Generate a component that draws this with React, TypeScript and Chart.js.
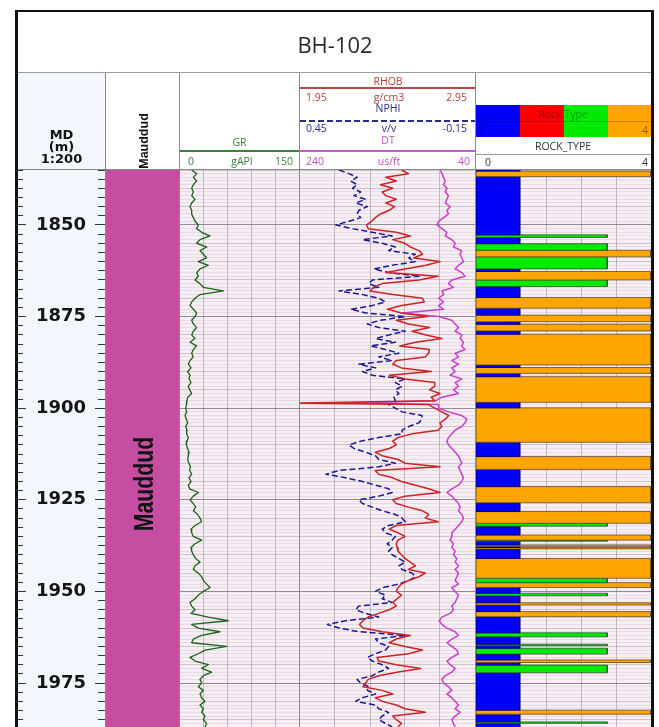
import React, { useEffect, useRef } from 'react';
import { Chart, registerables } from 'chart.js';

Chart.register(...registerables);

// ---------------- DATA ----------------
const DEPTH = [
  1835, 1836, 1837, 1838, 1839, 1840, 1841, 1842, 1843, 1844,
  1845, 1846, 1847, 1848, 1849, 1850, 1851, 1852, 1853, 1854,
  1855, 1856, 1857, 1858, 1859, 1860, 1861, 1862, 1863, 1864,
  1865, 1866, 1867, 1868, 1869, 1870, 1871, 1872, 1873, 1874,
  1875, 1876, 1877, 1878, 1879, 1880, 1881, 1882, 1883, 1884,
  1885, 1886, 1887, 1888, 1889, 1890, 1891, 1892, 1893, 1894,
  1895, 1896, 1897, 1898, 1898.6,
  1899, 1900, 1901, 1902, 1903, 1904, 1905, 1906, 1907, 1908,
  1909, 1910, 1911, 1912, 1913, 1914, 1915, 1916, 1917, 1918,
  1919, 1920, 1921, 1922, 1923, 1924, 1925, 1926, 1927, 1928,
  1929, 1930, 1931, 1932, 1933, 1934, 1935, 1936, 1937, 1938,
  1939, 1940, 1941, 1942, 1943, 1944, 1945, 1946, 1947, 1948,
  1949, 1950, 1951, 1952, 1953, 1954, 1955, 1956, 1957, 1958,
  1959, 1960, 1961, 1962, 1963, 1964, 1965, 1966, 1967, 1968,
  1969, 1970, 1971, 1972, 1973, 1974, 1975, 1976, 1977, 1978,
  1979, 1980, 1981, 1982, 1983, 1984, 1985, 1986, 1987,
];

const GR = [
  14.7, 21, 16.8, 21, 16.8, 14.7, 16.8, 14.7, 18.9, 14.7,
  12.6, 14.7, 14.7, 16.8, 18.9, 23.1, 21, 27.3, 37.8, 25.2,
  21, 33.6, 25.2, 29.4, 33.6, 23.1, 35.7, 25.2, 21, 23.1,
  18.9, 25.2, 29.4, 54.6, 25.2, 18.9, 14.7, 12.6, 16.8, 21,
  18.9, 14.7, 16.8, 21, 16.8, 14.7, 18.9, 12.6, 21, 16.8,
  14.7, 16.8, 12.6, 10.5, 13.9, 9.7, 12.6, 11.3, 13.9, 10.5,
  12.2, 14.7, 9.7, 8.8, 8.5,
  8, 7.1, 8.4, 6.3, 8, 9.7, 7.1, 8.8, 8.4, 10.5,
  8.8, 8, 9.7, 11.3, 10.5, 9.7, 11.3, 13, 12.2, 14.7,
  11.3, 13.9, 10.5, 12.2, 23.1, 16.8, 12.6, 16.8, 19.7, 16.8,
  22.3, 25.2, 27.3, 18.9, 13.9, 14.7, 16.8, 27.3, 18.9, 13.9,
  14.7, 16.8, 19.7, 25.2, 18.9, 16.8, 23.1, 27.3, 29.4, 33.6,
  37.8, 29.4, 23.1, 18.9, 12.6, 14.7, 18.9, 13.9, 35.7, 60.9,
  14.7, 23.1, 50.4, 27.3, 16.8, 14.7, 58.8, 31.5, 23.1, 12.6,
  18.9, 35.7, 27.3, 39.9, 29.4, 25.2, 27.3, 23.1, 29.4, 25.2,
  27.3, 31.5, 25.2, 29.4, 27.3, 31.5, 29.4, 33.6, 31.5,
];

const RHOB = [
  2.53, 2.57, 2.44, 2.5, 2.41, 2.48, 2.42, 2.44, 2.5, 2.44,
  2.49, 2.46, 2.41, 2.38, 2.36, 2.33, 2.34, 2.5, 2.58, 2.48,
  2.55, 2.58, 2.63, 2.65, 2.6, 2.75, 2.67, 2.55, 2.44, 2.74,
  2.63, 2.42, 2.37, 2.35, 2.48, 2.65, 2.66, 2.53, 2.45, 2.53,
  2.68, 2.5, 2.57, 2.69, 2.59, 2.67, 2.76, 2.61, 2.52, 2.69,
  2.685, 2.666, 2.5, 2.48, 2.53, 2.7, 2.46, 2.55, 2.72, 2.72,
  2.69, 2.75, 2.7, 2.72, 1.9,
  2.685, 2.72, 2.76, 2.8, 2.78, 2.75, 2.76, 2.74, 2.59, 2.51,
  2.48, 2.5, 2.46, 2.38, 2.42, 2.51, 2.55, 2.75, 2.38, 2.4,
  2.48, 2.53, 2.61, 2.685, 2.75, 2.55, 2.48, 2.5, 2.57, 2.65,
  2.685, 2.666, 2.74, 2.5, 2.46, 2.51, 2.55, 2.51, 2.5, 2.505,
  2.51, 2.53, 2.55, 2.58, 2.61, 2.57, 2.666, 2.63, 2.57, 2.53,
  2.51, 2.5, 2.53, 2.505, 2.48, 2.5, 2.46, 2.4, 2.34, 2.31,
  2.29, 2.31, 2.42, 2.58, 2.5, 2.46, 2.55, 2.65, 2.57, 2.39,
  2.4, 2.5, 2.64, 2.51, 2.4, 2.34, 2.325, 2.31, 2.42, 2.48,
  2.38, 2.42, 2.5, 2.55, 2.666, 2.48, 2.5, 2.53, 2.51,
];

const NPHI = [
  0.316, 0.282, 0.254, 0.276, 0.254, 0.27, 0.242, 0.265, 0.225, 0.259,
  0.219, 0.248, 0.254, 0.242, 0.282, 0.327, 0.27, 0.202, 0.134, 0.236,
  0.168, 0.123, 0.146, 0.055, 0.077, 0.055, 0.134, 0.197, 0.146, 0.038,
  0.202, 0.214, 0.18, 0.316, 0.236, 0.18, 0.157, 0.202, 0.276, 0.225,
  0.089, 0.174, 0.219, 0.18, 0.089, 0.146, 0.191, 0.123, 0.208, 0.157,
  0.111, 0.18, 0.134, 0.248, 0.191, 0.236, 0.202, 0.089, 0.123, 0.1,
  0.123, 0.111, 0.128, 0.123, 0.123,
  0.146, 0.123, 0.1, 0.032, 0.032, 0.043, 0.077, 0.1, 0.1, 0.18,
  0.242, 0.282, 0.265, 0.225, 0.191, 0.18, 0.123, 0.18, 0.316, 0.361,
  0.293, 0.236, 0.191, 0.146, 0.134, 0.18, 0.248, 0.236, 0.202, 0.168,
  0.123, 0.1, 0.089, 0.146, 0.168, 0.157, 0.123, 0.134, 0.151, 0.134,
  0.146, 0.134, 0.111, 0.089, 0.111, 0.1, 0.066, 0.055, 0.077, 0.111,
  0.168, 0.191, 0.157, 0.168, 0.134, 0.248, 0.259, 0.225, 0.18, 0.293,
  0.356, 0.316, 0.248, 0.089, 0.191, 0.18, 0.146, 0.157, 0.191, 0.219,
  0.202, 0.168, 0.146, 0.18, 0.202, 0.254, 0.242, 0.214, 0.219, 0.191,
  0.236, 0.259, 0.191, 0.18, 0.146, 0.168, 0.18, 0.157, 0.134,
];

const DT = [
  79.7, 77.8, 75.9, 74, 75.9, 72.1, 74, 70.3, 72.1, 74,
  68.4, 72.1, 70.3, 75.9, 81.6, 83.5, 77.8, 72.1, 74, 66.5,
  62.7, 64.6, 55.1, 57, 55.1, 53.2, 58.9, 62.7, 55.1, 51.3,
  66.5, 70.3, 64.6, 77.8, 75.9, 81.6, 75.9, 81.6, 75.9, 123.3,
  81.6, 66.5, 62.7, 58.9, 62.7, 55.1, 57, 53.2, 55.1, 51.3,
  62.7, 58.9, 66.5, 58.9, 66.5, 62.7, 68.4, 55.1, 62.7, 58.9,
  64.6, 58.9, 77.8, 85.4, 183.9,
  81.6, 81.6, 70.3, 55.1, 49.4, 51.3, 55.1, 62.7, 66.5, 70.3,
  72.1, 70.3, 66.5, 62.7, 58.9, 57, 55.1, 58.9, 57, 55.1,
  53.2, 55.1, 58.9, 66.5, 72.1, 66.5, 62.7, 58.9, 57, 58.9,
  55.1, 53.2, 55.1, 58.9, 62.7, 66.5, 66.5, 68.4, 64.6, 66.5,
  62.7, 64.6, 60.8, 62.7, 58.9, 62.7, 58.9, 60.8, 62.7, 58.9,
  66.5, 62.7, 58.9, 60.8, 62.7, 66.5, 64.6, 68.4, 77.8, 80.9,
  77.8, 72.1, 62.7, 58.9, 66.5, 72.1, 66.5, 60.8, 58.9, 66.5,
  72.1, 68.4, 62.7, 66.5, 74, 77.8, 75.9, 70.3, 66.5, 72.1,
  66.5, 62.7, 58.9, 62.7, 57, 62.7, 66.5, 64.6, 62.7,
];

const ROCK_TOP = [
  1834.7, 1835.3, 1836.8, 1852.7, 1853.4, 1855.1, 1856.9, 1858.7, 1862.0, 1862.7,
  1865.0, 1866.8, 1869.8, 1872.7, 1874.6, 1876.4, 1877.1, 1878.9, 1879.8, 1888.2,
  1888.9, 1890.5, 1891.4, 1898.4, 1899.9, 1909.3, 1913.2, 1916.7, 1921.4, 1925.8,
  1928.2, 1931.4, 1932.2, 1934.6, 1936.0, 1936.3, 1937.3, 1937.7, 1938.0, 1938.4,
  1941.0, 1946.4, 1947.6, 1948.9, 1950.5, 1951.2, 1953.1, 1953.7, 1955.5, 1956.9,
  1961.3, 1962.4, 1964.4, 1964.8, 1965.5, 1967.1, 1968.7, 1969.4, 1970.1, 1972.2,
  1982.4, 1983.5, 1985.6, 1986.0,
];
const ROCK_BASE = [
  1835.3, 1836.8, 1852.7, 1853.4, 1855.1, 1856.9, 1858.7, 1862.0, 1862.7, 1865.0,
  1866.8, 1869.8, 1872.7, 1874.6, 1876.4, 1877.1, 1878.9, 1879.8, 1888.2, 1888.9,
  1890.5, 1891.4, 1898.4, 1899.9, 1909.3, 1913.2, 1916.7, 1921.4, 1925.8, 1928.2,
  1931.4, 1932.2, 1934.6, 1936.0, 1936.3, 1937.3, 1937.7, 1938.0, 1938.4, 1941.0,
  1946.4, 1947.6, 1948.9, 1950.5, 1951.2, 1953.1, 1953.7, 1955.5, 1956.9, 1961.3,
  1962.4, 1964.4, 1964.8, 1965.5, 1967.1, 1968.7, 1969.4, 1970.1, 1972.2, 1982.4,
  1983.5, 1985.6, 1986.0, 1996.0,
];
const ROCK_CODE = [
  1, 4, 1, 3, 1, 3, 4, 3, 1, 4,
  3, 1, 4, 1, 4, 1, 4, 1, 4, 1,
  4, 1, 4, 1, 4, 1, 4, 1, 4, 1,
  4, 3, 1, 4, 3, 1, 4, 1, 4, 1,
  4, 3, 4, 1, 3, 1, 4, 1, 4, 1,
  3, 1, 3, 1, 3, 1, 4, 1, 3, 1,
  4, 1, 3, 1,
];
const ROCK_COLORS = ['rgb(0,0,250)', 'rgb(250,0,0)', 'rgb(0,235,0)', 'rgb(255,165,0)'];
const ROCK_EDGE = ['rgba(0,0,110,0.9)', 'rgba(60,40,40,0.75)', 'rgba(50,70,50,0.75)', 'rgba(90,70,40,0.75)'];

const FORMATION_NAME = ['Mauddud'];
const FORMATION_TOP = [1820];
const FORMATION_BASE = [2010];

const DEPTH_LABELS = [1850, 1875, 1900, 1925, 1950, 1975];
const GR_GRID = [30, 60, 90, 120];
const RHOB_GRID = [2.15, 2.35, 2.55, 2.75];
const ROCK_GRID = [0.8, 1.6, 2.4, 3.2];

// ---------------- LAYOUT / STYLE ----------------
const W = 659;
const H = 727;
const TRACK_TOP = 170;
const TRACK_H = 590;
const D_MIN = 1835;
const D_MAX = 1996;

const C_GR = 'rgb(25,100,25)';
const C_RHOB = 'rgb(205,35,35)';
const C_NPHI = 'rgb(25,25,150)';
const C_DT = 'rgb(205,60,205)';
const T_GR = 'rgb(60,130,60)';
const T_RHOB = 'rgb(175,65,60)';
const T_NPHI = 'rgb(40,45,140)';
const T_DT = 'rgb(195,80,195)';
const TRACK_BG = 'rgb(247,238,244)';
const DEPTH_BG = 'rgb(243,247,253)';
const FORM_COLOR = 'rgb(198,78,160)';
const SEP = '#8a8a8a';

const hGridColor = (c: any) => {
  const v = c && c.tick ? c.tick.value : 0;
  if (Math.abs(v % 25) < 1e-6) return 'rgba(120,115,120,0.8)';
  if (Math.abs(v % 5) < 1e-6) return 'rgba(165,150,165,0.5)';
  return 'rgba(214,190,207,0.42)';
};

const zeroPad = (s: any) => {
  s.paddingTop = 0;
  s.paddingBottom = 0;
  s.paddingLeft = 0;
  s.paddingRight = 0;
};

const depthScale = (grid: boolean) => ({
  type: 'linear',
  axis: 'y',
  position: 'left',
  min: D_MIN,
  max: D_MAX,
  reverse: true,
  display: grid,
  ticks: { display: false, stepSize: 1, autoSkip: false },
  grid: { drawTicks: false, color: hGridColor, lineWidth: 1 },
  border: { display: false },
  afterFit: (s: any) => { s.width = 0; zeroPad(s); },
});

const valueScale = (min: number, max: number, reverse: boolean, gridTicks?: number[]) => ({
  type: 'linear',
  axis: 'x',
  position: 'top',
  min,
  max,
  reverse,
  display: !!gridTicks,
  ticks: { display: false, autoSkip: false },
  afterBuildTicks: (s: any) => {
    if (gridTicks) s.ticks = gridTicks.map((v) => ({ value: v }));
  },
  grid: { drawTicks: false, color: 'rgba(150,145,150,0.6)', lineWidth: 1 },
  border: { display: false },
  afterFit: (s: any) => { s.height = 0; zeroPad(s); },
});

const baseOptions = (scales: any) => ({
  animation: false,
  responsive: false,
  maintainAspectRatio: false,
  events: [],
  layout: { padding: 0 },
  plugins: { legend: { display: false }, tooltip: { enabled: false }, title: { display: false } },
  scales,
});

const curve = (values: number[], xAxisID: string, color: string, width: number, dash?: number[]) => ({
  data: DEPTH.map((d, i) => ({ x: values[i], y: d })),
  xAxisID,
  yAxisID: 'y',
  showLine: true,
  pointRadius: 0,
  borderColor: color,
  borderWidth: width,
  borderDash: dash || [],
  borderJoinStyle: 'round',
  fill: false,
  tension: 0,
});

const rect = (x0: number, x1: number, top: number, base: number, fillColor: string, edge: string, bw: number) => ({
  data: [
    { x: x0, y: top },
    { x: x1, y: top },
    { x: x1, y: base },
    { x: x0, y: base },
    { x: x0, y: top },
  ],
  xAxisID: 'x',
  yAxisID: 'y',
  showLine: true,
  pointRadius: 0,
  fill: 'shape',
  backgroundColor: fillColor,
  borderColor: edge,
  borderWidth: bw,
  tension: 0,
});

const makeDepth = () => {
  const minorTicks = (pos: string, weight: number, len: number) => ({
    type: 'linear',
    axis: 'y',
    position: pos,
    weight,
    min: D_MIN,
    max: D_MAX,
    reverse: true,
    ticks: { display: false, stepSize: 2.5, autoSkip: false },
    grid: { drawOnChartArea: false, drawTicks: true, tickLength: len, tickColor: '#333', tickWidth: 1, color: 'rgba(0,0,0,0)' },
    border: { display: false },
    afterFit: (s: any) => { s.width = len; zeroPad(s); },
  });
  const majorTicks = (pos: string, weight: number, len: number, labels: boolean) => ({
    type: 'linear',
    axis: 'y',
    position: pos,
    weight,
    min: D_MIN,
    max: D_MAX,
    reverse: true,
    afterBuildTicks: (s: any) => { s.ticks = DEPTH_LABELS.map((v) => ({ value: v })); },
    ticks: {
      display: labels,
      mirror: true,
      padding: 10,
      autoSkip: false,
      callback: (v: any) => String(v),
      font: { family: 'DejaVu Sans', size: 18, weight: 'bold' },
      color: '#151515',
    },
    grid: { drawOnChartArea: false, drawTicks: true, tickLength: len, tickColor: '#333', tickWidth: 1, color: 'rgba(0,0,0,0)' },
    border: { display: false },
    afterFit: (s: any) => { s.width = len; zeroPad(s); },
  });
  return {
    type: 'scatter',
    data: { datasets: [] },
    options: baseOptions({
      x: { type: 'linear', axis: 'x', display: false, min: 0, max: 1 },
      yA: minorTicks('left', 1, 5),
      yB: majorTicks('left', 0, 3, true),
      yC: majorTicks('right', 0, 3, false),
      yD: minorTicks('right', 1, 7),
    }),
  };
};

const makeFormation = () => ({
  type: 'scatter',
  data: {
    datasets: FORMATION_TOP.map((t, i) => rect(0, 1, t, FORMATION_BASE[i], FORM_COLOR, 'rgba(0,0,0,0)', 0)),
  },
  options: baseOptions({ x: valueScale(0, 1, false), y: depthScale(false) }),
});

const makeGR = () => ({
  type: 'scatter',
  data: { datasets: [curve(GR, 'x', C_GR, 1.3)] },
  options: baseOptions({ x: valueScale(0, 150, false, GR_GRID), y: depthScale(true) }),
});

const makeLogs = () => ({
  type: 'scatter',
  data: {
    datasets: [
      curve(RHOB, 'xR', C_RHOB, 1.5),
      curve(NPHI, 'xN', C_NPHI, 1.5, [6, 3]),
      curve(DT, 'xD', C_DT, 1.5),
    ],
  },
  options: baseOptions({
    xR: valueScale(1.95, 2.95, false, RHOB_GRID),
    xN: valueScale(-0.15, 0.45, true),
    xD: valueScale(40, 240, true),
    y: depthScale(true),
  }),
});

const makeRock = () => ({
  type: 'scatter',
  data: {
    datasets: ROCK_TOP.map((t, i) =>
      rect(0, ROCK_CODE[i], t, ROCK_BASE[i], ROCK_COLORS[ROCK_CODE[i] - 1], ROCK_EDGE[ROCK_CODE[i] - 1], 1)
    ),
  },
  options: baseOptions({ x: valueScale(0, 4, false, ROCK_GRID), y: depthScale(true) }),
});

// ---------------- COMPONENTS ----------------
function TrackCanvas({ left, width, bg, make }: any) {
  const ref = useRef<HTMLCanvasElement | null>(null);
  useEffect(() => {
    const chart = new Chart(ref.current as HTMLCanvasElement, make() as any);
    return () => chart.destroy();
  }, []);
  return (
    <canvas
      ref={ref}
      width={width}
      height={TRACK_H}
      style={{ position: 'absolute', left, top: TRACK_TOP, width, height: TRACK_H, background: bg, display: 'block' }}
    />
  );
}

function Txt({ x, y, children, align = 'center', color = '#222', size = 10.5, family = "'Open Sans', sans-serif", weight = 400 }: any) {
  const style: any = {
    position: 'absolute',
    top: y - size * 0.55,
    fontSize: size,
    lineHeight: `${size}px`,
    fontFamily: family,
    fontWeight: weight,
    color,
    whiteSpace: 'nowrap',
  };
  if (align === 'left') style.left = x;
  else if (align === 'right') style.right = W - x;
  else {
    style.left = x;
    style.transform = 'translateX(-50%)';
  }
  return <div style={style}>{children}</div>;
}

function VText({ cx, cy, children, size, family, weight = 700, color = '#111', sx = 1 }: any) {
  return (
    <div
      style={{
        position: 'absolute',
        left: cx,
        top: cy,
        transform: `translate(-50%, -50%) rotate(-90deg) scaleX(${sx})`,
        fontSize: size,
        lineHeight: `${size}px`,
        fontFamily: family,
        fontWeight: weight,
        color,
        whiteSpace: 'nowrap',
      }}
    >
      {children}
    </div>
  );
}

const Box = ({ l, t, w, h, bg, extra }: any) => (
  <div style={{ position: 'absolute', left: l, top: t, width: w, height: h, background: bg, ...(extra || {}) }} />
);

export default function App() {
  const sepXs = [105, 179, 299, 475];
  return (
    <div style={{ position: 'fixed', left: 0, top: 0, width: W, height: H, overflow: 'hidden', background: '#fff' }}>
      {/* track bodies */}
      <TrackCanvas left={18} width={87} bg={DEPTH_BG} make={makeDepth} />
      <TrackCanvas left={106} width={73} bg={'#fff'} make={makeFormation} />
      <TrackCanvas left={180} width={119} bg={TRACK_BG} make={makeGR} />
      <TrackCanvas left={300} width={175} bg={TRACK_BG} make={makeLogs} />
      <TrackCanvas left={476} width={175} bg={TRACK_BG} make={makeRock} />

      {/* header backgrounds */}
      <Box l={18} t={73} w={87} h={96} bg={DEPTH_BG} />

      {/* frame */}
      <div
        style={{
          position: 'absolute',
          left: 15,
          top: 10,
          width: 639,
          height: 800,
          borderTop: '2px solid #111',
          borderLeft: '3px solid #111',
          borderRight: '3px solid #111',
          boxSizing: 'border-box',
        }}
      />
      <Box l={18} t={72} w={633} h={1} bg={'#9d9d9d'} />
      <Box l={18} t={169} w={633} h={1} bg={SEP} />
      {sepXs.map((x) => (
        <Box key={x} l={x} t={73} w={1} h={700} bg={SEP} />
      ))}

      {/* title */}
      <Txt x={335} y={45} size={22} color={'#2a2a2a'}>BH-102</Txt>

      {/* depth header */}
      <Txt x={61.5} y={135} size={13} weight={700} family={"'DejaVu Sans', sans-serif"} color={'#111'}>MD</Txt>
      <Txt x={61.5} y={147} size={13} weight={700} family={"'DejaVu Sans', sans-serif"} color={'#111'}>(m)</Txt>
      <Txt x={61.5} y={159} size={13} weight={700} family={"'DejaVu Sans', sans-serif"} color={'#111'}>1:200</Txt>

      {/* formation header + label */}
      <VText cx={143.5} cy={140.5} size={12.5} family={"'Liberation Sans', Arial, sans-serif"}>Mauddud</VText>
      <VText cx={144} cy={484} size={28} sx={0.76} family={"'Liberation Sans', Arial, sans-serif"}>{FORMATION_NAME[0]}</VText>

      {/* GR header */}
      <Txt x={239.5} y={143} color={T_GR}>GR</Txt>
      <Box l={180} t={150} w={119} h={2} bg={T_GR} />
      <Txt x={188} y={162} align="left" color={T_GR}>0</Txt>
      <Txt x={242} y={162} color={T_GR}>gAPI</Txt>
      <Txt x={293} y={162} align="right" color={T_GR}>150</Txt>

      {/* RHOB / NPHI / DT header */}
      <Txt x={388} y={82} color={T_RHOB}>RHOB</Txt>
      <Box l={300} t={87} w={175} h={2} bg={'rgb(185,75,70)'} />
      <Txt x={306} y={98} align="left" color={T_RHOB}>1.95</Txt>
      <Txt x={389} y={98} color={T_RHOB}>g/cm3</Txt>
      <Txt x={467} y={98} align="right" color={T_RHOB}>2.95</Txt>

      <Txt x={388} y={109} color={T_NPHI}>NPHI</Txt>
      <Box
        l={300}
        t={120}
        w={175}
        h={2}
        bg={'transparent'}
        extra={{ backgroundImage: `repeating-linear-gradient(90deg, ${T_NPHI} 0px, ${T_NPHI} 6px, transparent 6px, transparent 9px)` }}
      />
      <Txt x={306} y={129} align="left" color={T_NPHI}>0.45</Txt>
      <Txt x={389} y={129} color={T_NPHI}>v/v</Txt>
      <Txt x={467} y={129} align="right" color={T_NPHI}>-0.15</Txt>

      <Txt x={388} y={141} color={T_DT}>DT</Txt>
      <Box l={300} t={150} w={175} h={2} bg={'rgb(205,90,205)'} />
      <Txt x={306} y={162} align="left" color={T_DT}>240</Txt>
      <Txt x={389} y={162} color={T_DT}>us/ft</Txt>
      <Txt x={470} y={162} align="right" color={T_DT}>40</Txt>

      {/* Rock type header */}
      {ROCK_COLORS.map((c, i) => (
        <Box key={c} l={476 + i * 44} t={105} w={i === 3 ? 43 : 44} h={32} bg={c} />
      ))}
      <Box l={476} t={121} w={175} h={1} bg={'rgba(0,0,0,0.22)'} />
      <Txt x={563} y={115} color={'rgba(0,0,0,0.33)'}>Rock Type</Txt>
      <Txt x={478} y={131} align="left" color={'rgba(0,0,0,0.45)'}>1</Txt>
      <Txt x={648} y={131} align="right" color={'rgba(0,0,0,0.45)'}>4</Txt>
      <Txt x={563} y={147} color={'#333'}>ROCK_TYPE</Txt>
      <Box l={476} t={154} w={175} h={1} bg={'#9a9a9a'} />
      <Txt x={485} y={163} align="left" color={'#333'}>0</Txt>
      <Txt x={648} y={163} align="right" color={'#333'}>4</Txt>
    </div>
  );
}
